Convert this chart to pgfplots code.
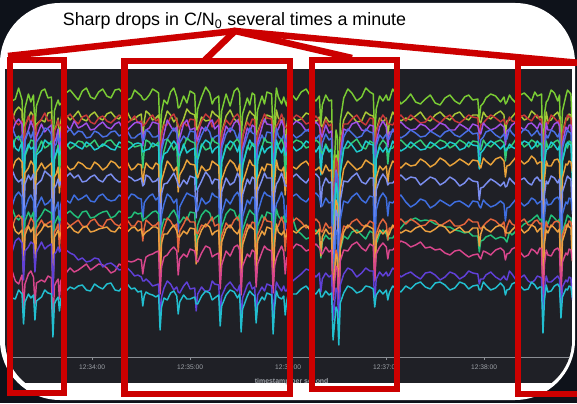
\documentclass[border=0pt]{standalone}
\usepackage{pgfplots}
\pgfplotsset{compat=1.18}
\usepackage{pgfplotstable}
\usepackage{fontspec}
\setmainfont{Liberation Sans}
\definecolor{outerbg}{HTML}{0E121A}
\definecolor{panel}{HTML}{1F2026}
\definecolor{tickgray}{HTML}{9EA2A8}
\definecolor{axgray}{HTML}{8A8D93}
\definecolor{annot}{HTML}{CC0000}
\definecolor{c1}{HTML}{7ACC34}
\definecolor{c2}{HTML}{A9C837}
\definecolor{c3}{HTML}{C8373A}
\definecolor{c4}{HTML}{A050E8}
\definecolor{c5}{HTML}{4A6FE3}
\definecolor{c6}{HTML}{33CC77}
\definecolor{c7}{HTML}{1ECBCF}
\definecolor{c8}{HTML}{EAA33A}
\definecolor{c9}{HTML}{7B8EF0}
\definecolor{c10}{HTML}{3F6EE0}
\definecolor{c11}{HTML}{22C07A}
\definecolor{c12}{HTML}{E4643C}
\definecolor{c13}{HTML}{ECA040}
\definecolor{c14}{HTML}{D8468C}
\definecolor{c15}{HTML}{6040D8}
\definecolor{c16}{HTML}{22BFD0}

% C/N0 (dB-Hz) per satellite; t = seconds after 12:33:00
\pgfplotstableread{
t s1 s2 s3 s4 s5 s6 s7 s8 s9 s10 s11 s12 s13 s14 s15 s16
9 49.8 47.3 47.5 46.1 45.9 44.5 44.8 42.3 41.7 38.8 37.9 36.6 36.4 31.5 34.2 29.8
11 48.9 47.0 47.8 45.7 46.3 44.0 45.2 42.0 42.0 38.4 38.2 36.2 36.8 31.9 33.8 29.2
13 49.1 47.9 46.8 46.7 45.4 45.1 44.2 42.9 41.2 39.4 37.3 37.2 35.9 30.9 34.9 29.1
15 50.2 48.3 46.5 47.1 45.0 45.4 43.9 43.2 40.8 39.8 37.0 37.5 35.6 30.6 35.2 30.0
17.1 49.0 47.9 46.9 46.6 45.5 44.6 44.8 42.8 41.1 39.3 37.4 37.1 36.0 31.5 34.7 29.6
18 45.2 42.1 43.0 40.6 41.1 38.4 39.0 38.1 36.5 33.5 33.6 32.0 31.8 28.0 31.0 26.6
18.9 48.2 46.5 46.3 45.1 44.9 43.4 43.6 41.7 40.6 38.1 36.9 36.0 35.5 30.6 33.9 28.8
21 49.6 47.2 47.4 46.0 45.9 44.3 44.6 42.2 41.5 39.1 37.8 36.5 36.4 31.6 34.3 29.6
22.5 48.8 47.8 46.6 46.9 45.2 45.0 44.1 42.9 41.0 39.5 37.2 37.2 35.8 31.9 34.8 29.2
24.1 49.5 47.4 47.5 46.2 45.9 44.9 44.3 42.5 41.6 38.9 37.8 36.8 36.3 31.3 34.6 29.5
25 46.1 43.9 43.4 41.8 42.0 39.9 40.6 38.9 37.2 35.0 34.2 33.1 32.5 28.6 31.8 27.0
25.9 48.4 46.6 46.4 45.3 44.8 43.7 43.5 41.8 40.5 38.2 36.8 36.1 35.4 30.7 33.8 28.9
29 49.9 47.0 47.1 46.6 45.5 44.9 44.0 42.7 41.0 39.3 37.5 37.0 36.0 31.0 34.8 29.3
31 50.1 46.8 47.7 45.8 46.2 44.2 45.0 42.1 41.9 38.5 38.1 36.4 36.6 30.8 34.1 30.0
33 49.2 47.7 46.9 46.2 46.1 44.4 44.7 42.4 41.6 38.7 37.9 36.7 36.3 31.4 34.4 29.7
35.1 49.3 47.8 47.0 46.5 45.6 44.9 44.6 42.7 41.3 39.1 37.7 36.9 36.4 31.2 34.6 29.6
36 43.0 40.3 41.2 38.1 38.6 36.0 37.3 36.0 34.3 31.5 31.4 30.2 30.0 26.2 29.5 25.3
36.9 47.9 46.0 45.9 44.8 44.4 43.0 43.2 41.3 40.2 37.8 36.6 35.8 35.3 30.4 33.6 28.6
38 48.5 46.4 46.3 45.2 44.6 43.6 43.7 41.6 40.5 38.3 37.0 36.1 35.6 30.8 33.8 29.0
39.2 49.0 47.2 47.0 46.1 45.5 44.5 44.2 42.3 41.1 38.8 37.4 36.6 36.0 31.1 34.3 29.3
40 48.5 44.1 46.4 42.9 44.8 41.3 43.5 39.7 40.4 36.0 36.9 34.1 35.3 29.1 33.8 27.9
40.8 48.6 46.8 46.5 45.6 45.1 44.0 43.8 42.0 40.8 38.5 37.1 36.4 35.7 30.9 34.0 29.1
42 48.9 48.0 46.7 46.9 45.3 45.1 44.0 43.0 40.9 39.4 37.2 37.3 35.8 31.3 34.8 29.4
44 49.7 47.5 47.2 46.5 45.7 44.7 44.3 42.5 41.3 39.0 37.6 36.8 36.1 31.7 34.0 29.9
46.5 50.0 47.0 47.6 46.0 46.1 44.1 44.8 42.0 41.7 38.7 37.9 36.4 36.4 32.2 33.7 30.3
49 49.5 47.4 47.0 46.9 45.5 44.4 44.6 42.2 41.2 39.5 37.5 36.7 35.9 31.8 33.5 30.1
51.5 49.0 47.9 46.6 46.2 45.9 44.9 44.3 42.8 41.5 39.0 37.2 37.0 35.7 32.0 33.0 30.4
54 49.9 47.1 47.3 46.4 45.8 44.8 44.1 42.6 40.8 39.2 37.8 36.4 36.2 32.3 33.2 30.5
56.5 50.2 46.9 47.5 46.7 45.2 44.3 44.8 42.2 40.9 39.5 37.9 36.3 36.4 32.6 32.8 30.0
59 49.3 47.5 46.8 46.0 45.3 44.6 44.5 42.1 41.3 38.9 37.2 36.9 35.8 32.0 32.9 29.9
61.5 49.1 47.8 46.6 46.1 45.9 45.0 44.0 42.8 41.5 38.8 37.3 37.1 35.9 32.3 33.2 30.6
64 49.8 47.2 47.2 46.5 45.7 44.3 44.2 42.5 41.0 39.4 37.6 36.5 36.1 32.6 33.1 30.3
66.5 50.1 47.0 47.4 46.8 45.3 44.4 44.6 42.0 40.8 39.6 37.8 36.3 36.2 32.5 32.3 30.1
69 49.4 47.6 46.9 46.3 45.4 44.9 44.4 42.3 41.4 39.1 37.9 37.0 36.3 32.2 32.6 30.6
71.5 49.2 47.8 46.7 46.1 45.8 45.0 44.1 42.9 41.6 38.9 37.2 37.1 35.9 31.7 32.7 30.7
74 50.0 47.3 47.1 46.6 45.9 44.5 44.0 42.7 41.1 39.0 37.4 36.6 35.8 31.9 32.4 30.0
76.5 50.1 47.1 47.5 46.8 45.4 44.3 44.8 42.2 40.8 39.5 37.9 36.4 36.3 32.6 32.0 29.9
79 49.6 47.7 47.3 46.1 45.6 44.2 44.6 42.4 40.9 39.3 37.7 36.8 36.0 32.4 32.1 30.4
81.5 49.0 47.8 46.7 46.0 45.9 44.9 44.0 42.8 41.4 39.0 37.2 37.0 35.8 32.9 32.2 30.6
84 49.2 47.0 47.0 46.4 45.2 44.7 44.3 42.0 41.2 39.6 37.3 36.4 36.2 32.8 31.8 30.1
86 50.0 47.1 47.4 46.7 45.2 44.3 44.6 42.2 40.9 39.5 37.8 36.4 36.3 32.9 31.4 30.2
88 49.7 47.4 46.7 46.8 45.5 44.4 44.7 42.6 41.0 39.2 37.6 36.9 35.9 33.1 31.5 29.8
90.1 49.4 47.6 46.9 46.6 45.7 44.5 44.6 42.5 41.2 39.1 37.7 36.8 36.1 33.0 31.3 29.9
91 49.1 45.1 46.4 44.4 44.9 42.2 43.8 40.5 40.4 37.0 36.9 34.9 35.4 31.6 30.9 28.4
91.9 49.0 46.9 46.5 45.8 45.1 44.0 43.9 41.9 40.6 38.7 37.1 36.2 35.6 32.6 30.9 29.4
93 49.1 47.9 46.7 46.0 46.0 45.0 44.0 42.7 41.5 39.0 37.2 37.0 35.8 33.3 31.1 29.8
95 49.5 47.6 47.2 46.2 45.8 44.8 44.1 42.3 41.3 39.4 37.5 36.7 36.0 33.5 30.8 29.6
97 50.1 47.0 47.5 46.8 45.3 44.3 44.7 42.1 40.8 39.6 37.8 36.4 36.3 33.6 30.4 29.5
99 49.9 47.2 46.9 46.7 45.3 44.5 44.5 42.7 40.9 39.0 37.9 36.5 36.3 33.8 30.5 29.3
100.7 49.7 47.5 47.1 46.6 45.5 44.8 44.4 42.5 41.2 39.3 37.6 36.8 36.1 33.9 30.6 29.5
101.6 44.9 41.0 42.3 39.8 39.7 37.6 38.1 37.0 35.5 33.0 32.4 31.0 30.8 29.6 27.1 26.0
102.5 47.8 45.6 45.6 44.3 44.0 42.6 42.7 40.9 39.6 37.5 36.2 35.3 34.7 32.3 29.3 28.3
104 49.0 46.8 46.5 45.6 45.0 43.9 43.6 41.8 40.6 38.6 37.1 36.2 35.6 33.3 30.2 29.2
106 48.6 47.9 46.5 47.0 45.1 45.1 43.8 42.9 40.7 39.6 37.0 37.2 35.6 33.5 30.9 29.0
108 49.8 47.5 47.3 46.4 45.7 44.7 44.4 42.5 41.2 39.3 37.6 36.9 36.1 34.0 30.6 29.7
110 50.2 46.8 47.6 45.9 46.2 44.0 44.9 41.9 41.7 38.7 38.0 36.3 36.5 34.3 30.0 29.9
111.8 49.3 47.2 46.9 46.3 45.7 44.5 44.5 42.3 41.0 39.1 37.4 36.6 35.9 33.9 30.3 29.4
112.7 48.2 44.2 46.5 42.7 45.0 41.0 43.6 39.8 40.5 35.8 36.9 33.8 35.3 31.5 29.8 27.6
113.6 48.3 46.2 46.1 45.2 44.7 43.5 43.4 41.5 40.3 38.3 36.7 35.9 35.3 33.1 29.7 28.8
116 49.4 47.1 46.8 46.6 45.4 44.3 44.6 42.2 41.0 39.1 37.3 36.6 35.9 33.6 30.4 29.5
118 48.7 48.1 46.4 47.0 45.0 45.2 43.7 43.0 40.6 39.7 37.0 37.3 35.6 33.3 30.8 29.1
120 49.9 47.7 47.1 46.0 45.9 44.9 44.0 42.6 41.4 39.5 37.8 36.8 36.2 34.1 30.1 29.1
122.8 49.6 47.5 47.0 46.2 45.8 44.7 44.2 42.5 41.2 39.3 37.7 36.8 36.1 33.9 30.2 29.3
123.7 46.0 46.5 43.6 45.4 41.9 43.5 40.0 41.6 37.2 38.4 34.0 35.8 32.6 33.0 27.9 28.6
124.6 48.1 46.0 45.8 44.9 44.5 43.1 43.0 41.2 40.1 37.9 36.5 35.6 35.0 32.8 29.6 28.6
127 49.3 47.3 46.9 46.3 45.5 44.6 44.4 42.4 40.9 39.2 37.5 36.5 36.0 33.7 30.3 29.4
129.5 50.3 46.9 47.6 45.9 46.3 44.0 45.0 41.9 41.8 38.6 38.0 36.3 36.6 34.4 29.8 29.9
132 49.7 47.0 47.2 46.8 45.8 44.2 44.7 42.1 41.3 38.9 37.7 36.9 36.3 34.2 30.0 29.7
133.5 48.6 47.9 46.3 47.0 44.9 45.2 43.7 42.9 40.6 39.7 36.9 37.3 35.5 33.3 30.9 29.0
135 49.1 47.6 46.6 46.1 45.3 44.8 44.1 42.7 41.1 39.4 37.2 36.4 35.8 33.5 30.6 29.2
137.5 49.4 47.3 47.1 46.5 45.5 44.6 44.4 42.4 41.0 39.2 37.5 36.6 36.0 33.7 30.5 29.5
138.4 45.3 42.0 42.8 40.4 40.7 38.2 39.1 37.9 36.0 33.6 33.2 31.9 31.7 30.1 27.5 26.4
139.3 47.9 45.7 45.7 44.6 44.2 42.8 42.8 41.0 39.8 37.6 36.3 35.4 34.8 32.5 29.4 28.4
142 49.6 47.4 47.0 46.4 45.6 44.5 44.3 42.3 41.2 39.1 37.6 36.7 36.1 33.9 30.4 29.5
144.5 48.4 48.0 46.5 45.8 46.2 44.0 44.9 43.0 40.5 38.6 38.1 36.2 36.5 33.4 30.8 30.0
147 49.9 47.1 47.3 46.7 45.9 44.8 44.6 42.6 40.8 39.4 37.9 37.0 35.9 34.3 30.2 29.8
149 50.2 46.8 47.6 47.0 45.0 45.1 43.8 41.9 41.7 39.8 37.0 37.3 35.6 34.5 29.9 29.2
150.3 49.7 47.2 47.2 46.4 45.8 44.7 44.5 42.6 41.2 39.3 37.6 36.8 36.1 34.0 30.5 29.6
151.2 44.6 40.9 42.1 39.5 39.9 37.0 38.0 36.8 35.4 32.7 32.5 30.8 30.6 29.5 26.9 25.8
152.1 47.6 45.3 45.4 44.1 43.9 42.4 42.5 40.7 39.5 37.3 36.0 35.1 34.5 32.4 29.2 28.1
155 49.2 47.3 46.8 46.2 45.4 44.4 44.2 42.2 41.1 39.0 37.4 36.6 36.0 33.6 30.5 29.4
156.5 48.5 47.9 46.4 45.8 46.2 44.0 45.0 43.0 40.6 38.6 38.0 36.2 36.5 33.3 30.8 29.9
158 49.7 47.6 47.1 46.5 45.7 44.7 44.5 42.5 41.3 39.3 37.7 36.8 36.2 34.0 30.1 29.6
159.5 49.5 47.4 47.0 46.3 45.6 44.5 44.3 42.4 41.1 39.2 37.5 36.7 36.0 33.8 30.3 29.4
160.4 45.5 42.3 42.6 40.8 40.9 38.6 39.2 38.0 36.3 33.9 33.0 32.1 31.6 30.3 27.4 26.7
161.3 48.0 45.8 45.6 44.7 44.3 42.9 42.9 41.1 39.9 37.7 36.4 35.5 34.9 32.6 29.5 28.5
164 49.4 47.0 46.9 46.3 45.5 44.3 44.4 42.3 41.0 39.2 37.5 36.5 35.9 33.8 30.3 29.3
165.5 48.6 46.8 47.6 47.1 44.9 45.2 43.7 41.9 41.7 39.8 37.0 37.3 35.5 34.4 29.9 29.0
167 49.8 47.5 47.2 46.6 45.8 44.8 44.1 42.6 41.2 39.5 37.8 36.9 36.3 34.1 30.6 29.7
169.9 49.6 47.3 47.1 46.5 45.7 44.7 44.4 42.5 41.2 39.3 37.6 36.8 36.1 33.9 30.4 29.5
170.8 44.8 41.2 41.9 39.7 40.1 37.3 38.3 37.1 35.2 33.1 32.2 31.2 30.4 29.7 27.0 25.6
171.7 47.7 45.4 45.5 44.2 44.0 42.5 42.6 40.8 39.6 37.4 36.1 35.2 34.6 32.4 29.3 28.2
172.8 50.2 48.0 46.4 45.8 46.2 44.0 45.0 43.0 40.6 38.6 38.1 36.2 36.6 33.2 30.8 29.9
174 49.3 47.2 46.7 46.1 45.4 44.5 44.3 42.1 40.9 39.0 37.4 36.4 35.8 33.7 30.4 29.3
176 48.6 46.9 47.6 47.0 45.0 45.1 43.7 41.9 41.7 39.8 37.0 37.3 35.5 34.4 29.9 29.1
177.3 49.3 47.2 46.9 46.3 45.5 44.5 44.3 42.3 41.0 39.1 37.4 36.6 35.9 33.8 30.4 29.4
178.2 48.8 44.0 46.3 42.9 45.0 41.1 43.5 39.5 40.4 36.0 36.8 33.9 35.3 31.6 29.9 27.5
179.1 48.4 46.3 46.2 45.4 44.8 43.7 43.5 41.6 40.4 38.4 36.8 36.0 35.4 33.2 29.9 28.9
180.5 50.1 47.9 46.5 45.9 46.1 44.1 45.0 43.0 40.7 38.7 38.0 36.3 36.5 33.4 30.6 29.9
182 49.6 47.4 47.0 46.4 45.7 44.6 44.5 42.4 41.2 39.3 37.6 36.7 36.0 34.0 30.8 29.6
185 49.0 46.9 47.5 46.9 45.2 45.0 43.9 42.1 41.6 39.6 36.0 37.2 35.7 34.6 31.2 29.6
188 49.8 47.1 47.2 46.6 45.5 44.8 44.2 42.6 41.1 39.1 35.6 36.8 36.2 34.4 31.6 30.1
191 50.1 47.7 46.6 45.9 46.0 44.2 44.9 42.9 40.7 38.8 35.1 36.2 36.5 33.9 32.1 30.4
194 49.3 47.5 46.8 46.2 45.8 44.4 44.6 42.2 41.4 39.4 35.3 36.5 35.9 34.1 31.9 29.8
197 48.9 46.8 47.4 46.8 45.1 45.0 43.8 42.0 41.6 39.7 36.0 37.1 35.6 34.6 31.3 29.6
199.1 49.4 47.3 46.9 46.4 45.5 44.7 44.4 42.3 41.2 39.3 35.5 36.7 36.1 34.2 31.7 30.1
200 46.5 46.5 44.1 45.6 42.7 43.9 41.5 41.9 38.3 38.6 33.2 35.9 33.4 33.8 29.8 29.3
200.9 48.5 46.3 46.1 45.3 44.7 43.6 43.4 41.6 40.3 38.4 34.8 35.8 35.3 33.6 31.1 29.3
203 49.5 47.3 47.0 46.5 45.6 44.6 44.4 42.5 41.2 39.2 35.5 36.7 36.1 34.3 31.7 29.9
205 48.9 46.8 46.4 45.7 45.0 43.9 43.8 41.9 40.7 38.7 35.1 36.2 35.6 33.8 31.3 29.5
206.6 49.0 46.9 46.6 45.9 45.2 44.1 44.0 42.0 40.8 38.8 35.2 36.3 35.7 34.0 31.5 29.7
207.5 40.2 37.0 37.8 35.4 35.9 33.5 34.6 33.2 32.0 30.5 29.8 29.6 29.3 29.0 27.0 25.0
209.3 46.0 43.5 43.2 42.0 41.8 40.4 40.7 39.0 38.0 36.0 33.8 34.0 33.6 32.4 30.2 28.3
210.2 45.2 42.8 42.6 41.3 41.2 39.8 40.0 38.5 37.4 35.6 33.2 33.5 33.1 32.0 29.8 27.9
211 38.9 36.2 36.5 34.8 34.9 32.8 33.6 32.5 31.4 30.0 29.2 29.0 28.7 28.5 26.4 24.5
211.9 46.9 44.6 44.3 43.4 43.0 41.8 41.7 40.0 38.9 37.0 34.0 34.8 34.2 32.9 30.5 28.7
214 49.2 47.0 46.6 46.1 45.3 44.2 44.1 42.1 40.9 38.9 35.4 36.4 35.8 34.0 31.6 29.7
216.5 50.1 47.8 46.6 45.9 46.1 44.2 44.9 42.9 40.8 38.7 35.1 36.2 36.5 33.9 32.2 30.4
219 49.7 47.4 47.1 46.6 45.7 44.7 44.5 42.5 41.3 39.3 35.8 36.8 36.2 34.5 32.0 30.2
222 48.9 46.8 47.5 46.8 45.2 45.1 43.8 42.0 41.7 39.7 36.0 37.1 35.7 34.8 31.3 29.7
225 49.3 46.9 46.8 46.0 45.4 44.3 44.0 42.3 40.8 39.0 35.5 36.5 35.9 34.2 31.7 29.9
227.5 50.2 47.8 46.5 45.9 46.1 44.1 44.9 43.0 40.6 38.7 35.1 36.3 36.5 33.9 32.2 30.4
230 49.8 47.5 47.2 46.5 45.8 44.9 44.6 42.7 41.2 39.4 35.9 36.9 36.3 34.6 31.9 30.3
232.1 49.6 47.4 47.1 46.4 45.7 44.7 44.5 42.5 41.2 39.3 35.7 36.7 36.1 34.4 31.9 30.1
233 45.0 41.5 42.2 40.0 40.3 37.5 38.5 37.3 35.6 33.4 31.5 31.5 31.0 30.9 28.8 28.3
233.9 48.1 45.9 45.8 44.8 44.4 43.1 43.1 41.2 40.0 38.0 34.6 35.6 35.0 33.6 31.1 29.5
236 49.4 47.2 46.9 46.3 45.5 44.5 44.3 42.4 41.0 39.2 35.6 36.6 36.0 34.3 31.8 30.0
238 48.9 46.8 47.5 46.9 45.1 45.0 43.8 42.0 41.6 39.7 36.0 37.1 35.6 34.7 31.4 29.6
240.1 49.5 47.2 47.0 46.3 45.6 44.6 44.3 42.4 41.1 39.2 35.6 36.6 36.0 34.3 31.8 30.0
241 49.0 45.4 46.6 44.3 45.1 42.6 43.8 40.7 40.5 37.4 35.0 35.0 35.4 33.1 31.4 29.0
241.9 49.0 46.7 46.6 45.8 45.1 44.1 43.8 42.0 40.7 38.8 35.2 36.2 35.6 34.0 31.5 29.7
244 50.1 47.8 46.5 45.8 46.1 44.2 44.9 42.9 40.7 38.7 35.2 36.2 36.5 34.0 32.2 30.4
246 49.6 47.3 47.0 46.4 45.6 44.7 44.4 42.6 41.1 39.1 35.7 36.7 36.1 34.4 31.9 30.1
249 48.6 46.9 47.5 46.8 45.2 45.0 43.9 42.2 41.5 39.5 36.2 37.1 35.7 34.9 31.3 29.8
252 49.0 47.2 46.9 46.3 45.5 44.5 44.2 42.7 41.0 38.8 36.8 36.6 36.0 34.7 31.6 30.4
255 49.6 47.0 47.5 46.0 46.0 44.2 44.8 42.4 41.3 38.3 37.0 37.1 35.8 34.3 31.8 30.1
258 48.8 47.4 47.1 46.1 45.7 44.7 44.4 42.5 41.2 38.6 37.2 36.8 36.2 34.5 31.4 30.6
261 48.6 47.8 46.7 46.6 45.3 45.0 44.0 43.1 40.5 39.1 36.9 36.4 36.4 34.8 31.1 30.8
264 49.1 47.1 46.8 46.4 45.4 44.4 44.1 42.8 40.9 38.9 37.0 36.5 35.9 34.2 31.7 30.3
267 49.5 46.9 47.4 45.9 45.9 44.2 44.8 42.3 41.3 38.2 36.9 37.0 35.8 34.3 31.8 30.1
270 48.7 47.5 47.0 46.2 45.6 44.6 44.5 42.6 41.1 38.5 36.6 36.9 36.1 34.0 31.5 30.7
273 48.5 47.8 46.7 46.7 45.3 45.0 44.1 43.2 40.5 39.0 36.5 36.4 36.5 34.1 31.0 30.8
276 49.2 47.3 47.2 46.5 45.8 44.8 44.3 42.9 40.8 38.7 36.3 36.7 36.3 33.7 31.3 30.5
279 49.5 47.0 47.5 46.0 46.0 44.2 44.8 42.4 41.3 38.4 36.3 37.0 35.7 33.5 31.8 30.0
282 48.9 47.6 46.9 46.0 45.5 44.5 44.6 42.7 41.0 38.8 36.0 36.4 36.0 33.9 31.6 30.2
285 48.6 47.8 46.7 46.6 45.3 45.0 44.0 43.1 40.4 38.9 35.9 36.4 36.3 34.0 31.1 30.8
288 49.3 47.2 47.1 46.3 45.7 44.7 44.2 42.8 40.7 38.6 35.7 36.6 35.8 33.6 31.4 30.6
290.5 49.5 47.0 47.5 46.0 46.0 44.3 44.8 42.5 41.2 38.3 35.8 37.1 35.8 33.3 31.9 30.1
293 49.0 47.5 47.3 46.6 45.6 44.9 44.5 43.0 40.9 38.9 35.4 36.8 36.2 33.5 31.7 30.4
296.1 49.1 47.5 47.2 46.4 45.7 44.8 44.4 42.9 40.8 38.8 35.4 36.8 36.2 33.6 31.6 30.5
297 47.0 46.9 45.1 45.8 43.5 44.1 42.1 42.5 39.0 38.4 33.8 36.3 34.4 33.3 30.6 30.0
297.9 48.4 46.7 46.5 45.6 45.0 44.0 43.7 42.2 40.2 38.2 34.9 36.1 35.6 33.1 31.1 30.0
299.5 48.7 47.8 46.7 46.7 45.3 45.0 44.0 43.2 40.3 39.0 35.0 36.4 36.4 33.9 31.1 30.8
301 49.2 47.4 47.0 46.4 45.8 44.6 44.4 42.9 40.6 38.7 35.3 36.7 36.1 33.8 31.5 30.5
304 49.6 47.1 47.5 46.0 46.0 44.3 44.9 42.5 41.1 38.3 35.5 37.1 35.8 33.5 31.8 30.0
307 49.4 47.6 47.2 46.2 45.5 44.8 44.6 43.1 40.8 38.5 35.1 36.9 36.3 34.0 31.3 30.2
310 48.8 47.9 46.8 46.6 45.2 45.0 44.1 43.3 40.4 38.9 35.3 36.4 36.5 34.2 31.0 30.7
312.1 49.3 47.5 47.1 46.3 45.6 44.7 44.5 42.9 40.8 38.6 35.2 36.8 36.2 33.9 31.4 30.3
313 48.6 45.6 46.6 44.5 45.0 42.9 43.9 41.3 40.3 36.9 35.0 35.4 35.8 33.0 31.1 29.5
313.9 48.8 46.9 46.6 45.9 45.1 44.2 44.0 42.4 40.4 38.2 34.8 36.3 35.7 33.6 31.0 30.0
315.5 49.5 47.0 47.3 46.1 46.1 44.2 44.6 42.5 41.2 38.3 35.8 37.0 35.7 33.7 31.9 30.1
317 49.1 47.3 46.9 46.5 45.7 44.5 44.3 42.8 40.9 38.6 35.5 36.6 36.0 34.1 31.6 30.6
319.5 48.7 47.8 46.8 46.8 45.3 45.1 44.1 43.3 40.5 39.1 35.9 36.4 36.4 34.3 31.0 30.8
322 49.5 47.5 47.3 46.3 45.6 44.9 44.5 43.0 41.0 38.8 36.2 36.8 36.2 33.8 31.2 30.4
324.5 49.7 47.0 47.5 46.0 46.1 44.3 44.9 42.6 41.2 38.4 36.6 37.1 35.7 33.3 31.5 30.0
327 49.3 47.2 47.1 46.6 45.9 44.6 44.7 42.9 40.7 38.7 36.8 36.5 36.0 33.5 30.9 30.1
329 48.9 47.9 46.9 46.7 45.4 45.0 44.1 43.4 40.5 39.2 37.0 36.5 36.5 34.1 30.7 30.8
331 49.8 47.6 47.4 46.4 45.7 44.8 44.4 43.1 41.1 39.0 37.3 36.9 36.3 33.9 31.0 30.5
332.5 49.4 47.2 47.5 46.1 46.0 44.3 44.9 42.6 41.3 38.6 37.5 37.0 35.8 33.6 31.4 30.1
334 49.5 47.3 47.0 46.7 45.5 44.6 44.6 42.8 40.9 38.8 37.0 36.6 36.1 34.2 31.3 30.3
335.1 49.6 47.4 47.1 46.5 45.6 44.7 44.5 42.8 41.0 38.9 37.1 36.7 36.2 34.1 31.2 30.3
336 42.8 39.0 39.8 37.6 38.3 35.5 36.4 35.2 33.6 31.4 30.9 30.1 29.8 29.0 27.4 25.7
336.9 47.6 45.3 45.4 44.3 43.9 42.6 42.7 41.0 39.5 37.3 35.6 35.3 34.7 32.6 30.1 29.0
338 48.8 47.8 46.8 46.7 45.5 44.9 44.0 42.9 40.9 39.1 36.9 36.8 36.0 34.0 31.4 30.5
339 49.0 46.9 46.6 46.0 45.2 44.2 44.1 42.4 40.6 38.5 36.6 36.3 35.7 33.5 30.8 29.8
341 50.0 47.0 47.5 46.0 46.0 44.3 44.8 42.4 41.4 38.6 37.5 36.3 36.5 33.4 30.8 29.9
343 49.7 47.5 47.2 46.6 45.8 44.8 44.5 43.0 41.2 39.1 37.2 36.8 36.2 34.0 31.1 30.4
345 48.9 47.8 46.8 46.8 45.3 45.0 44.0 43.1 40.7 39.3 36.8 36.9 35.8 34.2 31.4 30.6
346.1 49.5 47.3 47.0 46.4 45.7 44.7 44.4 42.7 41.1 39.0 37.1 36.7 36.1 33.9 31.1 30.3
347 43.6 40.0 40.6 38.5 39.0 36.5 37.2 36.0 34.4 32.3 31.8 30.9 30.5 29.6 28.0 27.2
347.9 47.9 45.6 45.6 44.6 44.2 42.9 42.9 41.2 39.8 37.6 35.8 35.5 34.9 32.8 30.3 29.3
350 49.4 47.2 46.9 46.3 45.5 44.6 44.3 42.6 40.9 38.8 36.9 36.5 36.0 33.7 31.0 30.1
351 50.0 47.0 47.5 46.0 46.0 44.2 44.8 42.5 41.4 38.6 37.5 36.3 36.6 33.5 30.8 30.0
352 49.8 47.6 47.3 46.5 45.8 44.9 44.6 42.9 41.2 39.2 37.3 36.9 36.3 34.1 31.3 30.4
353.1 49.6 47.5 47.2 46.5 45.7 44.8 44.5 42.8 41.1 39.1 37.2 36.8 36.2 34.0 31.2 30.3
354 46.2 46.4 43.9 44.9 42.3 43.3 40.6 41.8 37.6 37.9 34.1 35.4 32.9 32.9 29.0 29.2
354.9 48.3 46.2 46.1 45.2 44.8 43.5 43.6 41.8 40.4 38.2 36.3 35.9 35.4 33.1 30.5 29.6
355.7 49.5 47.3 47.0 46.4 45.6 44.7 44.4 42.7 41.0 39.0 37.0 36.6 36.1 33.9 31.2 30.2
}\cndata

\begin{document}
\begin{tikzpicture}[x=0.75pt,y=0.75pt]
\useasboundingbox (0,0) rectangle (577,403);
\fill[outerbg] (0,0) rectangle (577,403);
\fill[white, rounded corners=45pt] (0,3) rectangle (575,400);
\begin{scope}
\clip[rounded corners=41pt] (5,8) rectangle (572,395);
\fill[panel] (5,20) rectangle (572,334);
\begin{axis}[
  at={(5,46)}, anchor=south west, scale only axis,
  width=425.25pt, height=215.25pt,
  xmin=8.6, xmax=355.7, ymin=23.3, ymax=52,
  enlargelimits=false,
  axis x line=bottom, axis y line=none,
  x axis line style={-, draw=axgray, line width=0.6pt},
  xtick={60,120,180,240,300},
  xticklabels={12:34:00,12:35:00,12:36:00,12:37:00,12:38:00},
  tick align=outside, major tick length=2pt,
  xtick style={draw=axgray, line width=0.5pt},
  tick label style={font=\fontsize{5}{6}\selectfont, text=tickgray},
  xlabel={timestamp per second},
  xlabel style={font=\bfseries\fontsize{5.2}{6}\selectfont, text=tickgray},
  every axis plot/.append style={line width=1.1pt, no markers, line join=round},
]
\addplot[c1] table[x=t,y=s1]{\cndata};
\addplot[c2] table[x=t,y=s2]{\cndata};
\addplot[c3] table[x=t,y=s3]{\cndata};
\addplot[c4] table[x=t,y=s4]{\cndata};
\addplot[c5] table[x=t,y=s5]{\cndata};
\addplot[c6] table[x=t,y=s6]{\cndata};
\addplot[c7] table[x=t,y=s7]{\cndata};
\addplot[c8] table[x=t,y=s8]{\cndata};
\addplot[c9] table[x=t,y=s9]{\cndata};
\addplot[c10] table[x=t,y=s10]{\cndata};
\addplot[c11] table[x=t,y=s11]{\cndata};
\addplot[c12] table[x=t,y=s12]{\cndata};
\addplot[c13] table[x=t,y=s13]{\cndata};
\addplot[c14] table[x=t,y=s14]{\cndata};
\addplot[c15] table[x=t,y=s15]{\cndata};
\addplot[c16] table[x=t,y=s16]{\cndata};
\end{axis}
\end{scope}
\begin{scope}[draw=annot, line width=4.9pt, line join=miter]
\draw (10,10) -- (10,343) -- (64,343) -- (64,10) -- cycle;
\draw (124.5,9) -- (124.5,342) -- (290,342) -- (290,9) -- cycle;
\draw (312,14) -- (312,343) -- (397,343) -- (397,14) -- cycle;
\draw (590,9) -- (518,9) -- (518,340) -- (590,340);
\draw (8,347) -- (235,372) -- (580,340);
\draw (205,343) -- (235,372) -- (352,345);
\end{scope}
\node[anchor=base, font=\fontsize{13.4}{16}\selectfont, inner sep=0pt] at (234.5,377) {Sharp drops in C/N\textsubscript{0} several times a minute};
\end{tikzpicture}
\end{document}
